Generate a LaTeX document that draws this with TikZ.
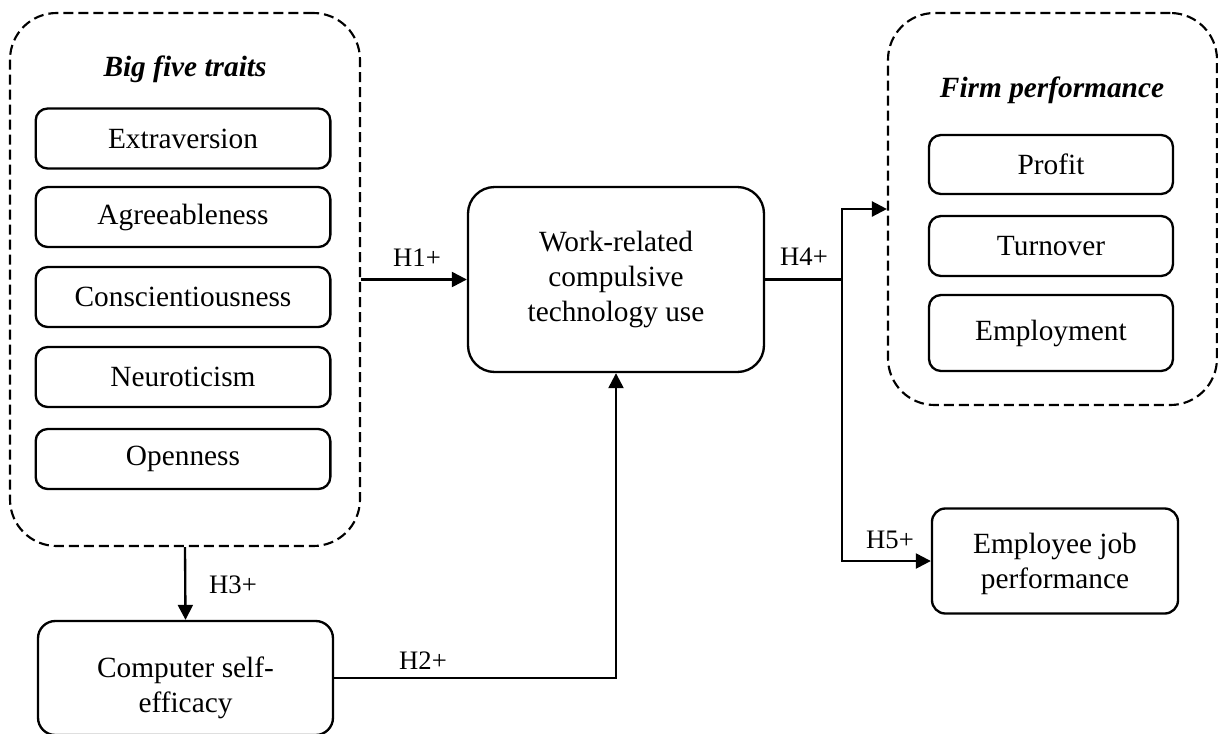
\documentclass[tikz,border=0pt]{standalone}
\usepackage{fontspec}
\setmainfont{Liberation Serif}
\usetikzlibrary{arrows.meta}

\begin{document}
\begin{tikzpicture}[x=0.75pt,y=0.75pt,yscale=-1,
  every node/.style={font=\fontsize{22}{26.5}\selectfont},
  group/.style={draw,line width=1.6pt,dash pattern=on 7.5pt off 3.75pt,rounded corners=35pt,inner sep=0pt},
  item/.style={draw,line width=1.75pt,rounded corners=9pt,inner sep=0pt,align=center},
  hyp/.style={inner sep=0pt,font=\fontsize{20}{24}\selectfont},
  grouptitle/.style={anchor=base,inner sep=0pt,font=\fontsize{22}{26.5}\selectfont\bfseries\itshape},
  arr/.style={line width=1.75pt,-{Triangle[length=11.25pt,width=11.25pt]}},
  lnk/.style={line width=1.75pt}]
\useasboundingbox (0,0) rectangle (1218,733);

%Shape: Big five group
\node[group,minimum width=262.5pt,minimum height=399.75pt] (bigfive) at (185,279.5) {};
\node[grouptitle] (bigtitle) at (185,76) {Big five traits};
\node[item,minimum width=221pt,minimum height=45pt] (extra) at (183,138.5) {Extraversion};
\node[item,minimum width=221pt,minimum height=45pt] (agree) at (183,217) {Agreeableness};
\node[item,minimum width=221pt,minimum height=45pt] (consc) at (183,297) {Conscientiousness};
\node[item,minimum width=221pt,minimum height=45pt] (neuro) at (183,377) {Neuroticism};
\node[item,minimum width=221pt,minimum height=45pt] (open) at (183,459) {Openness};

%Shape: Computer self-efficacy
\node[item,rounded corners=13pt,minimum width=221.25pt,minimum height=85.5pt] (cse) at (185.5,678) {\rule{0pt}{30pt}Computer self-\\efficacy};

%Shape: Work-related compulsive technology use
\node[item,rounded corners=20pt,minimum width=222pt,minimum height=138.75pt] (wctu) at (616,279.5) {Work-related\\compulsive\\technology use};

%Shape: Firm performance group
\node[group,minimum width=246.75pt,minimum height=294pt] (firm) at (1052.5,209) {};
\node[grouptitle] (firmtitle) at (1052,97) {Firm performance};
\node[item,minimum width=183pt,minimum height=44.25pt] (profit) at (1051,164.5) {Profit};
\node[item,minimum width=183pt,minimum height=45pt] (turn) at (1051,246) {Turnover};
\node[item,minimum width=183pt,minimum height=57pt] (employ) at (1051,333) {Employment};

%Shape: Employee job performance
\node[item,rounded corners=10pt,minimum width=184.5pt,minimum height=78.75pt] (ejp) at (1055,561) {\rule{0pt}{20pt}Employee job\\performance};

% Connectors
\coordinate (split) at (842,279.5);
\draw[arr] (bigfive.east) -- (wctu.west);
\draw[arr] (bigfive.south) -- (cse.north);
\draw[arr] (cse.east) -| (wctu.south);
\draw[lnk] (wctu.east) -- (split);
\draw[arr] (split) |- (firm.west);
\draw[arr] (split) |- (ejp.west);

% Text Node
\node[hyp] (h1) at (417,258) {H1+};
\node[hyp] (h2) at (423,661) {H2+};
\node[hyp] (h3) at (233,585) {H3+};
\node[hyp] (h4) at (804,257) {H4+};
\node[hyp] (h5) at (890,540) {H5+};
\end{tikzpicture}
\end{document}
